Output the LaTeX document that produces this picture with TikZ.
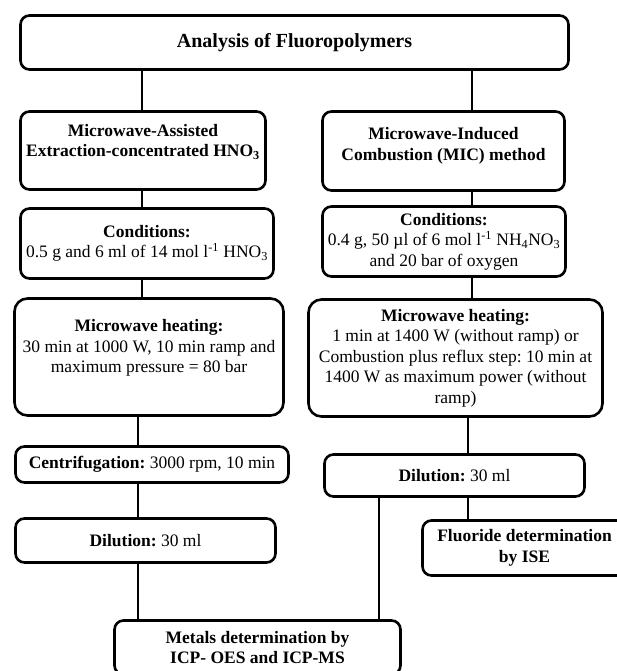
\documentclass[tikz,border=0pt]{standalone}
\usepackage{fontspec}
\setmainfont{Liberation Serif}
\frenchspacing

\tikzstyle{box} = [rectangle, rounded corners=9pt, draw=black, line width=2.6pt, align=center, inner xsep=1pt, inner ysep=2pt, font=\fontsize{17.5}{20.5}\selectfont]
\tikzstyle{bigbox} = [box, rounded corners=13pt]
\tikzstyle{link} = [line width=2.6pt]

\begin{document}
\begin{tikzpicture}[x=1pt, y=-1pt]
\useasboundingbox (0,0) rectangle (617,671);

\node (title) [box, minimum width=548, minimum height=54, font=\fontsize{20}{24}\selectfont] at (294.5,42.5) {\textbf{Analysis of Fluoropolymers}};

% left branch
\node (mae) [box, minimum width=245, minimum height=78] at (143,150.5) {\textbf{Microwave-Assisted}\\\textbf{Extraction-concentrated HNO\textsubscript{3}}\\\rule{0pt}{14pt}};

\node (condL) [box, minimum width=253, minimum height=70] at (147,243.5) {\textbf{Conditions:}\\0.5 g and 6 ml of 14 mol l\textsuperscript{-1} HNO\textsubscript{3}};

\node (heatL) [bigbox, minimum width=269, minimum height=117] at (149,357) {\textbf{Microwave heating:}\\30 min at 1000 W, 10 min ramp and\\maximum pressure = 80 bar\\\rule{0pt}{17pt}};

\node (centr) [box, minimum width=273, minimum height=36] at (152,464.5) {\textbf{Centrifugation:} 3000 rpm, 10 min};

\node (dilL) [box, minimum width=260, minimum height=44] at (145.5,540.5) {\textbf{Dilution:} 30 ml};

% right branch
\node (mic) [box, minimum width=242, minimum height=79] at (443.5,151) {\textbf{Microwave-Induced}\\\textbf{Combustion (MIC) method}\\[-6pt]\rule{0pt}{1pt}};

\node (condR) [box, minimum width=243, minimum height=70] at (444,241.5) {\textbf{Conditions:}\\0.4 g, 50 µl of 6 mol l\textsuperscript{-1} NH\textsubscript{4}NO\textsubscript{3}\\and 20 bar of oxygen};

\node (heatR) [bigbox, minimum width=294, minimum height=117] at (455.5,358) {\textbf{Microwave heating:}\\1 min at 1400 W (without ramp) or\\Combustion plus reflux step: 10 min at\\1400 W as maximum power (without\\ramp)};

\node (dilR) [box, minimum width=260, minimum height=42] at (454.5,475.5) {\textbf{Dilution:} 30 ml};

\node (fluor) [box, minimum width=204, minimum height=55] at (524.5,548) {\textbf{Fluoride determination}\\\textbf{by ISE}};

% common end
\node (metals) [box, minimum width=286, minimum height=54] at (257.5,647.5) {\textbf{Metals determination by}\\\textbf{ICP- OES and ICP-MS}};

\coordinate (lcol) at (142,0);
\coordinate (lcolb) at (138,0);
\coordinate (rcol) at (472,0);
\coordinate (rcolb) at (468,0);
\coordinate (mcol) at (379,0);

\draw [link] (title.south -| lcol) -- (mae.north -| lcol);
\draw [link] (mae.south -| lcol) -- (condL.north -| lcol);
\draw [link] (condL.south -| lcol) -- (heatL.north -| lcol);
\draw [link] (heatL.south -| lcolb) -- (centr.north -| lcolb);
\draw [link] (centr.south -| lcolb) -- (dilL.north -| lcolb);
\draw [link] (dilL.south -| lcolb) -- (metals.north -| lcolb);

\draw [link] (title.south -| rcol) -- (mic.north -| rcol);
\draw [link] (mic.south -| rcol) -- (condR.north -| rcol);
\draw [link] (condR.south -| rcol) -- (heatR.north -| rcol);
\draw [link] (heatR.south -| rcolb) -- (dilR.north -| rcolb);
\draw [link] (dilR.south -| rcolb) -- (fluor.north -| rcolb);
\draw [link] (dilR.south -| mcol) -- (metals.north -| mcol);

\end{tikzpicture}
\end{document}
